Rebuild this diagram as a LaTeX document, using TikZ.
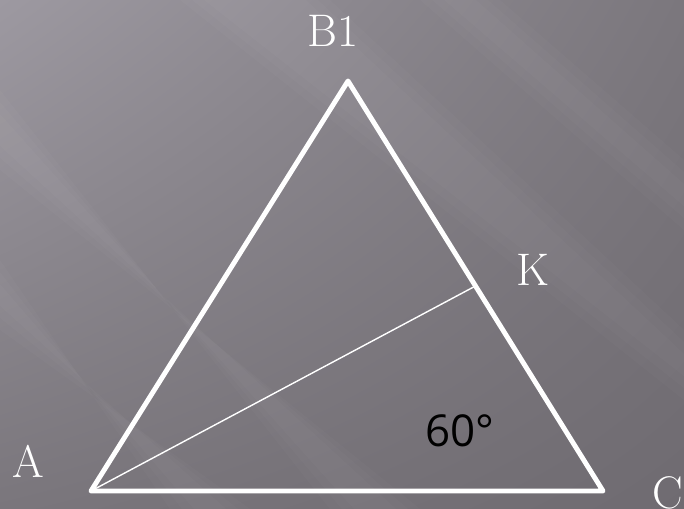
\documentclass[tikz,border=0pt]{standalone}
\usepackage{fontspec}
\newfontfamily\degfont{Open Sans}
\usetikzlibrary{positioning,calc,shadings}

\definecolor{bgtl}{HTML}{9D99A1}
\definecolor{bgtr}{HTML}{7B777D}
\definecolor{bgbl}{HTML}{7A767C}
\definecolor{bgbr}{HTML}{6F6B71}

\begin{document}
\begin{tikzpicture}[x=0.02cm,y=-0.02cm,
    lbl/.style={text=white,inner sep=0pt,font=\fontsize{26}{30}\selectfont},
    side/.style={white,line width=2.8pt,line join=round,line cap=round},
    streak/.style={white,opacity=0.018}]
  % background
  \useasboundingbox (0,0) rectangle (684,509);
  \shade[upper left=bgtl,upper right=bgtr,lower left=bgbl,lower right=bgbr]
    (0,0) rectangle (684,509);
  \clip (0,0) rectangle (684,509);
  \foreach \d in {0,12,24}{
    \fill[streak] (0,260+\d) -- (0,330-\d) -- (250-\d,509) -- (170+\d,509) -- cycle;
    \fill[streak] (180+\d,0) -- (330-\d,0) -- (684,330+\d) -- (684,400-\d) -- cycle;
    \fill[streak] (420+\d,0) -- (500-\d,0) -- (684,160+\d) -- (684,230-\d) -- cycle;
    \fill[streak] (0,90+\d) -- (0,170-\d) -- (420-\d,509) -- (330+\d,509) -- cycle;
  }
  %
  \coordinate (A) at (91,491);
  \coordinate (B) at (348,81);
  \coordinate (C) at (603,491);
  \coordinate (K) at ($(B)!0.5!(C)$);
  \draw[side] (A) -- (B) -- (C) -- cycle;
  \draw[white,line width=0.8pt] (A) -- (K);
  %
  \node[lbl] (lA) at (28,461) {A};
  \node[lbl] (lB) at (333,31) {B1};
  \node[lbl] (lK) at (533,270) {K};
  \node[lbl] (lC) at (668,493) {C};
  \node[inner sep=0pt,font=\degfont\fontsize{25}{30}\selectfont] (ang) at (460,431) {60°};
\end{tikzpicture}
\end{document}
